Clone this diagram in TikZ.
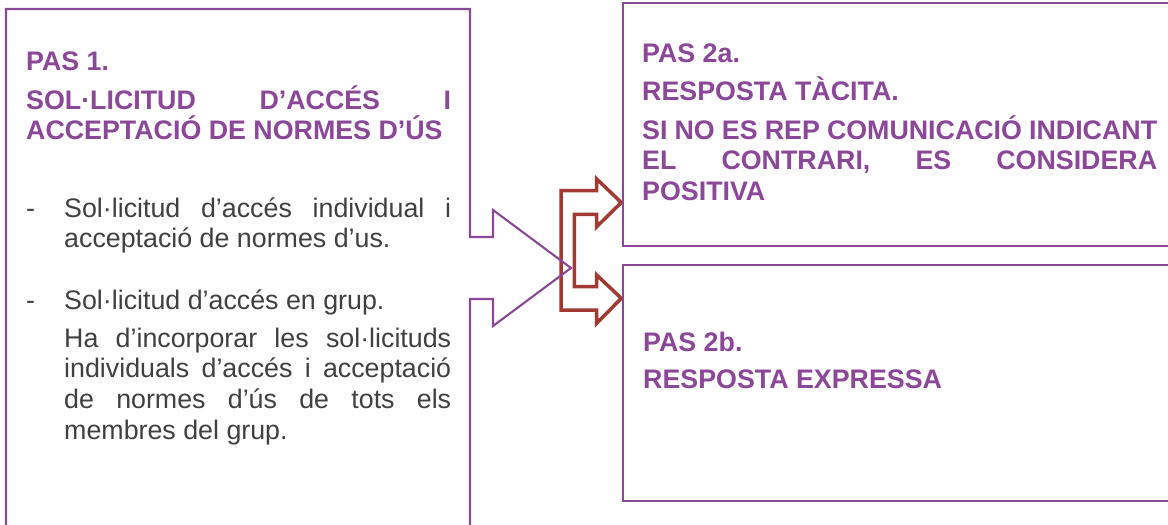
\documentclass[tikz,border=0pt]{standalone}
\usepackage{fontspec}
\setmainfont{Liberation Sans}
\definecolor{pur}{RGB}{139,71,152}
\definecolor{txtgray}{RGB}{64,64,64}
\definecolor{arrred}{RGB}{162,58,52}
\newcommand{\jl}[2]{\hbox to #1{#2}}
\begin{document}
\begin{tikzpicture}[x=1pt,y=-1pt,
  boxline/.style={draw=pur,line width=2.1pt,line join=miter},
  head/.style={anchor=base west,inner sep=0pt,text=pur,font=\fontsize{26.8}{30}\selectfont\bfseries},
  body/.style={anchor=base west,inner sep=0pt,text=txtgray,font=\fontsize{26.8}{30}\selectfont},
  forkarrow/.style={draw=arrred,line width=3.5pt,fill=white,line join=miter}]
\useasboundingbox (0,0) rectangle (1168,525);
\clip (0,0) rectangle (1168,525);
\fill[white] (0,0) rectangle (1168,525);

% fork arrow (red)
\draw[forkarrow] (561,190.7) -- (596.7,190.7) -- (596.7,179) -- (621.3,202.5)
  -- (596.7,226.7) -- (596.7,214.3) -- (574.3,214.3) -- (574.3,286.7)
  -- (596.7,286.7) -- (596.7,275) -- (621.3,298.3) -- (596.7,323.3)
  -- (596.7,310) -- (561,310) -- cycle;

% left callout box
\draw[boxline] (6,540) -- (6,9) -- (470,9) -- (470,237) -- (493,237) -- (493,210)
  -- (571,268) -- (493,326) -- (493,299) -- (470,299) -- (470,540);

% right boxes
\draw[boxline] (1190,3.3) -- (622.7,3.3) -- (622.7,246) -- (1190,246);
\draw[boxline] (1190,265) -- (622.7,265) -- (622.7,500.7) -- (1190,500.7);

% left box texts
\node[head] (p1) at (26,70) {PAS 1.};
\node[head] (p1a) at (26,109) {\jl{425pt}{SOL·LICITUD D’ACCÉS I}};
\node[head] (p1b) at (26,139) {ACCEPTACIÓ DE NORMES D’ÚS};

\node[body] (d1) at (26,217) {-};
\node[body] (b1) at (64,217) {\jl{387pt}{Sol·licitud d’accés individual i}};
\node[body] (b2) at (64,247) {acceptació de normes d’us.};
\node[body] (d2) at (26,309) {-};
\node[body] (b3) at (64,309) {Sol·licitud d’accés en grup.};
\node[body] (b4) at (64,347) {\jl{387pt}{Ha d’incorporar les sol·licituds}};
\node[body] (b5) at (64,377) {\jl{387pt}{individuals d’accés i acceptació}};
\node[body] (b6) at (64,408) {\jl{387pt}{de normes d’ús de tots els}};
\node[body] (b7) at (64,439) {membres del grup.};

% right top box texts
\node[head] (p2a) at (642,62) {PAS 2a.};
\node[head] (p2a1) at (642,100) {RESPOSTA TÀCITA.};
\node[head] (p2a2) at (642,139) {\jl{515pt}{SI NO ES REP COMUNICACIÓ INDICANT}};
\node[head] (p2a3) at (642,169) {\jl{515pt}{EL CONTRARI, ES CONSIDERA}};
\node[head] (p2a4) at (642,200) {POSITIVA};

% right bottom box texts
\node[head] (p2b) at (643,351) {PAS 2b.};
\node[head] (p2b1) at (643,388) {RESPOSTA EXPRESSA};
\end{tikzpicture}
\end{document}
